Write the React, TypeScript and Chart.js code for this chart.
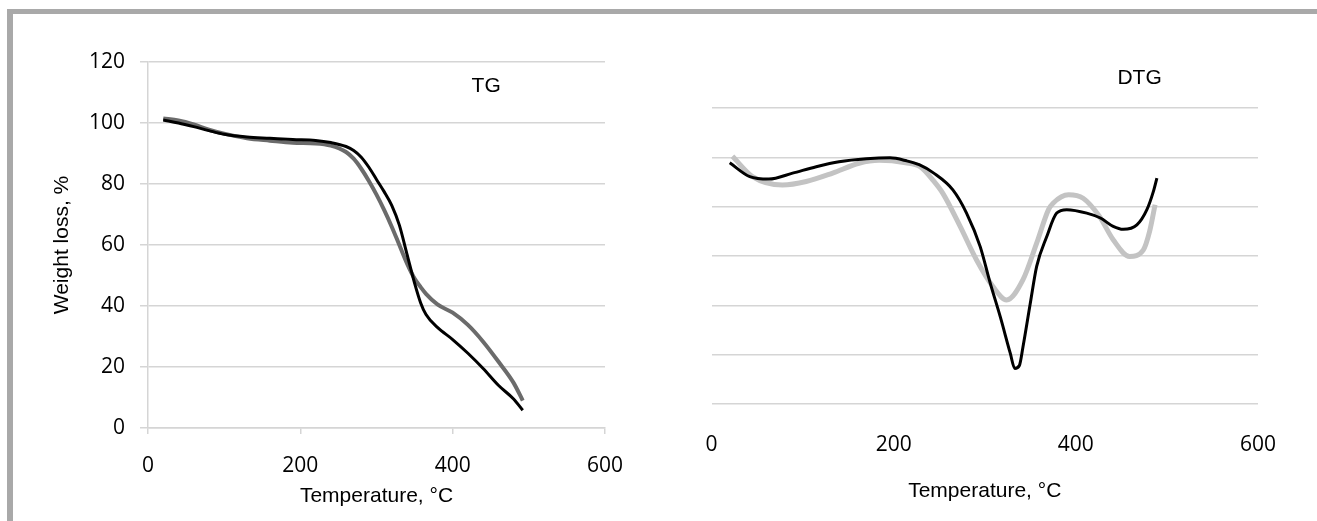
import React, { useEffect, useRef } from "react";
import { Chart, registerables } from "chart.js";

Chart.register(...registerables);

// ---------- TG (weight loss, %) ----------
const tgTemperature = [20, 40, 60, 80, 100, 130, 160, 190, 220, 240, 260, 270, 280, 290, 300, 310, 320, 330, 340, 350, 358, 365, 380, 400, 420, 440, 460, 480, 492];
const tgSampleBlack = [101, 100, 98.8, 97.5, 96.3, 95.4, 95, 94.6, 94.3, 93.6, 92.3, 91, 88.8, 85.5, 81.5, 77.5, 73, 66.5, 57, 47.5, 41, 37.2, 33, 29, 24.5, 19.5, 14, 9.5, 5.8];
const tgSampleGray = [101.5, 100.8, 99.5, 97.8, 96.5, 95, 94.2, 93.5, 93.3, 92.6, 90.5, 88.3, 85, 81, 76.5, 71.5, 66, 60, 54, 49, 46.2, 44, 40.5, 37.8, 33.8, 28.3, 21.8, 14.8, 9];

// ---------- DTG (arbitrary units, no labels shown) ----------
const dtgTemperatureBlack = [20, 42, 63, 89, 115, 140, 170, 196, 214, 228, 244, 265, 280, 295, 306, 317, 328, 333, 338, 342, 350, 357, 368, 379, 390, 412, 427, 441, 452, 467, 478, 485, 489];
const dtgSampleBlack = [4.89, 4.61, 4.56, 4.68, 4.81, 4.91, 4.97, 4.99, 4.93, 4.85, 4.68, 4.34, 3.87, 3.19, 2.45, 1.77, 1.03, 0.72, 0.78, 1.16, 2.04, 2.79, 3.39, 3.87, 3.94, 3.87, 3.77, 3.6, 3.54, 3.63, 3.94, 4.3, 4.58];
const dtgTemperatureGray = [23, 45, 78, 104, 133, 162, 184, 213, 229, 243, 254, 273, 291, 309, 324, 342, 357, 370, 375, 392, 408, 426, 441, 459, 474, 481, 487];
const dtgSampleGray = [5.02, 4.61, 4.44, 4.51, 4.68, 4.88, 4.94, 4.89, 4.81, 4.54, 4.27, 3.6, 2.92, 2.38, 2.11, 2.52, 3.26, 3.94, 4.07, 4.24, 4.17, 3.8, 3.33, 2.99, 3.12, 3.5, 4.04];

// ---------- axis ticks / labels ----------
const tempTicks = [0, 200, 400, 600];
const tgTicks = [0, 20, 40, 60, 80, 100, 120];
const dtgTicks = [0, 1, 2, 3, 4, 5, 6];
const xTitle = "Temperature, °C";
const tgYTitle = "Weight loss, %";
const tgLabel = { text: "TG", x: 444, y: 112 };
const dtgLabel = { text: "DTG", x: 470, y: 6.6 };

const TICK_FONT = { family: "'Open Sans', sans-serif", size: 21 };
const TITLE_FONT = { family: "'Liberation Sans', Arial, sans-serif", size: 21 };
const GRID = "#d5d5d5";

const toXY = (xs: number[], ys: number[]) => xs.map((x, i) => ({ x, y: ys[i] }));

const textPlugin = (lbl: { text: string; x: number; y: number }) => ({
  id: "panelLabel",
  afterDraw(chart: any) {
    const { ctx, scales } = chart;
    ctx.save();
    ctx.font = `21px 'Liberation Sans', Arial, sans-serif`;
    ctx.fillStyle = "#000";
    ctx.textAlign = "center";
    ctx.textBaseline = "middle";
    ctx.fillText(lbl.text, scales.x.getPixelForValue(lbl.x), scales.y.getPixelForValue(lbl.y));
    ctx.restore();
  },
});

function TGChart() {
  const ref = useRef<HTMLCanvasElement>(null);
  useEffect(() => {
    const chart = new Chart(ref.current!, {
      type: "line",
      data: {
        datasets: [
          {
            data: toXY(tgTemperature, tgSampleBlack),
            borderColor: "#000000",
            borderWidth: 3,
            pointRadius: 0,
            cubicInterpolationMode: "monotone",
          },
          {
            data: toXY(tgTemperature, tgSampleGray),
            borderColor: "#6b6b6b",
            borderWidth: 4,
            pointRadius: 0,
            cubicInterpolationMode: "monotone",
          },
        ],
      },
      options: {
        animation: false,
        responsive: false,
        events: [],
        layout: { padding: { left: 0, top: 62, right: 55, bottom: 0 } },
        plugins: { legend: { display: false }, tooltip: { enabled: false }, title: { display: false } },
        scales: {
          x: {
            type: "linear",
            min: 0,
            max: 600,
            afterBuildTicks: (s: any) => { s.ticks = tempTicks.map((v) => ({ value: v })); },
            afterFit: (s: any) => { s.height = 93; },
            grid: { display: true, drawOnChartArea: false, drawTicks: true, tickLength: 6, color: GRID, lineWidth: 1.5 },
            border: { display: true, color: GRID, width: 1.5 },
            ticks: { font: TICK_FONT, color: "#000", padding: 19.4, maxRotation: 0 },
            title: { display: true, text: xTitle, font: TITLE_FONT, color: "#000", padding: { top: 0, bottom: 11.7 } },
          },
          y: {
            type: "linear",
            min: 0,
            max: 120,
            afterBuildTicks: (s: any) => { s.ticks = tgTicks.map((v) => ({ value: v })); },
            afterFit: (s: any) => { s.width = 148; },
            grid: { display: true, drawTicks: true, tickLength: 8, color: GRID, lineWidth: 1.5 },
            border: { display: true, color: GRID, width: 1.5 },
            ticks: { font: TICK_FONT, color: "#000", padding: 15 },
            title: { display: true, text: tgYTitle, font: TITLE_FONT, color: "#000", padding: { top: 50, bottom: 0 } },
          },
        },
      },
      plugins: [textPlugin(tgLabel)],
    } as any);
    return () => chart.destroy();
  }, []);
  return <canvas ref={ref} width={660} height={521} style={{ display: "block" }} />;
}

function DTGChart() {
  const ref = useRef<HTMLCanvasElement>(null);
  useEffect(() => {
    const chart = new Chart(ref.current!, {
      type: "line",
      data: {
        datasets: [
          {
            data: toXY(dtgTemperatureBlack, dtgSampleBlack),
            borderColor: "#000000",
            borderWidth: 3,
            pointRadius: 0,
            cubicInterpolationMode: "monotone",
          },
          {
            data: toXY(dtgTemperatureGray, dtgSampleGray),
            borderColor: "#c3c3c3",
            borderWidth: 5,
            pointRadius: 0,
            cubicInterpolationMode: "monotone",
          },
        ],
      },
      options: {
        animation: false,
        responsive: false,
        events: [],
        layout: { padding: { left: 51.5, top: 108, right: 59, bottom: 0 } },
        plugins: { legend: { display: false }, tooltip: { enabled: false }, title: { display: false } },
        scales: {
          x: {
            type: "linear",
            min: 0,
            max: 600,
            afterBuildTicks: (s: any) => { s.ticks = tempTicks.map((v) => ({ value: v })); },
            afterFit: (s: any) => { s.height = 117; },
            grid: { display: false, drawTicks: false },
            border: { display: false },
            ticks: { font: TICK_FONT, color: "#000", padding: 28.4, maxRotation: 0 },
            title: { display: true, text: xTitle, font: TITLE_FONT, color: "#000", padding: { top: 0, bottom: 16.9 } },
          },
          y: {
            type: "linear",
            min: 0,
            max: 6,
            afterBuildTicks: (s: any) => { s.ticks = dtgTicks.map((v) => ({ value: v })); },
            afterFit: (s: any) => { s.width = 0; },
            grid: { display: true, drawTicks: false, color: GRID, lineWidth: 1.5 },
            border: { display: false },
            ticks: { display: false },
          },
        },
      },
      plugins: [textPlugin(dtgLabel)],
    } as any);
    return () => chart.destroy();
  }, []);
  return <canvas ref={ref} width={657} height={521} style={{ display: "block" }} />;
}

export default function App() {
  return (
    <div style={{ position: "absolute", left: 0, top: 0, width: 1317, height: 521, overflow: "hidden", background: "#fff" }}>
      <div
        style={{
          position: "absolute",
          left: 7,
          top: 9,
          width: 2000,
          height: 2000,
          borderTop: "5px solid #a9a9a9",
          borderLeft: "6px solid #a9a9a9",
        }}
      />
      <div style={{ position: "absolute", left: 0, top: 0 }}>
        <TGChart />
      </div>
      <div style={{ position: "absolute", left: 660, top: 0 }}>
        <DTGChart />
      </div>
    </div>
  );
}
